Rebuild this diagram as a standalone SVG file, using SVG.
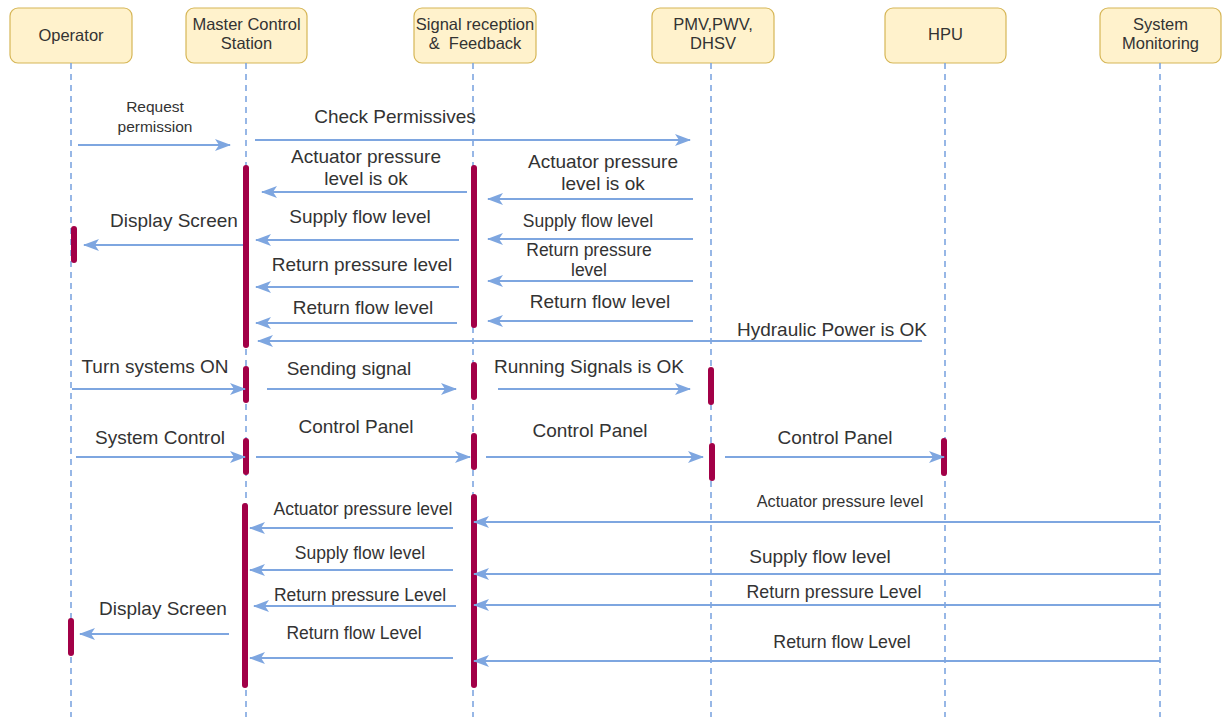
<svg xmlns="http://www.w3.org/2000/svg" width="1228" height="717" viewBox="0 0 1228 717">
  <style>
    .box { fill: #fff2cc; stroke: #d6b656; stroke-width: 1.2; }
    .life { stroke: #7ea6e0; stroke-width: 1.6; stroke-dasharray: 6 5; fill: none; }
    .act { stroke: #a20047; stroke-width: 6; stroke-linecap: round; fill: none; }
    .msg { stroke: #7ea6e0; stroke-width: 2; fill: none; marker-end: url(#head); }
    text { font-family: "Liberation Sans", Arial, sans-serif; fill: #333333; text-anchor: middle; }
    .hd { font-size: 16.5px; }
    .lb { font-size: 19px; }
    .md { font-size: 17.8px; }
    .sm { font-size: 17.5px; }
    .xs { font-size: 16.3px; }
    .rq { font-size: 15.5px; }
  </style>
  <defs>
    <marker id="head" viewBox="0 0 16 12" refX="15" refY="6" markerWidth="16" markerHeight="12" markerUnits="userSpaceOnUse" orient="auto">
      <path d="M0,0 L16,6 L0,12 L4,6 Z" fill="#7ea6e0"/>
    </marker>
  </defs>
  <rect width="1228" height="717" fill="#ffffff"/>

  <!-- participants -->
  <g id="operator">
    <rect class="box" x="10" y="8" width="122" height="55" rx="8"/>
    <text class="hd" x="71" y="41">Operator</text>
  </g>
  <g id="master-control-station">
    <rect class="box" x="186" y="8" width="121" height="55" rx="8"/>
    <text class="hd" x="246.5" y="30">Master Control</text>
    <text class="hd" x="246.5" y="49">Station</text>
  </g>
  <g id="signal-reception">
    <rect class="box" x="414" y="8" width="122" height="55" rx="8"/>
    <text class="hd" x="475" y="30">Signal reception</text>
    <text class="hd" x="475" y="49">&amp;&#160; Feedback</text>
  </g>
  <g id="valves">
    <rect class="box" x="652" y="8" width="122" height="55" rx="8"/>
    <text class="hd" x="713" y="30">PMV,PWV,</text>
    <text class="hd" x="713" y="49">DHSV</text>
  </g>
  <g id="hpu">
    <rect class="box" x="885" y="8" width="121" height="55" rx="8"/>
    <text class="hd" x="945.5" y="40">HPU</text>
  </g>
  <g id="system-monitoring">
    <rect class="box" x="1100" y="8" width="121" height="55" rx="8"/>
    <text class="hd" x="1160.5" y="30">System</text>
    <text class="hd" x="1160.5" y="49">Monitoring</text>
  </g>

  <!-- lifelines -->
  <g id="lifelines">
    <line class="life" x1="71" y1="63" x2="71" y2="717"/>
    <line class="life" x1="246" y1="63" x2="246" y2="717"/>
    <line class="life" x1="473" y1="63" x2="473" y2="717"/>
    <line class="life" x1="711" y1="63" x2="711" y2="717"/>
    <line class="life" x1="945" y1="63" x2="945" y2="717"/>
    <line class="life" x1="1160" y1="63" x2="1160" y2="717"/>
  </g>

  <!-- activation bars -->
  <g id="activations">
    <line class="act" x1="246" y1="168" x2="246" y2="345"/>
    <line class="act" x1="474" y1="168" x2="474" y2="325"/>
    <line class="act" x1="74" y1="229" x2="74" y2="260"/>
    <line class="act" x1="246" y1="369" x2="246" y2="400"/>
    <line class="act" x1="474" y1="365" x2="474" y2="397"/>
    <line class="act" x1="711" y1="370" x2="711" y2="402"/>
    <line class="act" x1="246" y1="441" x2="246" y2="472"/>
    <line class="act" x1="474" y1="436" x2="474" y2="467"/>
    <line class="act" x1="712" y1="446" x2="712" y2="478"/>
    <line class="act" x1="944" y1="441" x2="944" y2="473"/>
    <line class="act" x1="245" y1="506" x2="245" y2="685"/>
    <line class="act" x1="474" y1="497" x2="474" y2="685"/>
    <line class="act" x1="71" y1="621" x2="71" y2="653"/>
  </g>

  <!-- messages -->
  <g id="connectors">
    <line class="msg" x1="78" y1="145" x2="230" y2="145"/>
    <line class="msg" x1="255" y1="140" x2="690" y2="140"/>
    <line class="msg" x1="467" y1="192" x2="262" y2="192"/>
    <line class="msg" x1="693" y1="199" x2="488" y2="199"/>
    <line class="msg" x1="243" y1="245" x2="84" y2="245"/>
    <line class="msg" x1="459" y1="240" x2="256" y2="240"/>
    <line class="msg" x1="693" y1="239" x2="488" y2="239"/>
    <line class="msg" x1="459" y1="287" x2="256" y2="287"/>
    <line class="msg" x1="693" y1="281" x2="488" y2="281"/>
    <line class="msg" x1="457" y1="323" x2="256" y2="323"/>
    <line class="msg" x1="693" y1="321" x2="488" y2="321"/>
    <line class="msg" x1="922" y1="341" x2="258" y2="341"/>
    <line class="msg" x1="72" y1="389" x2="245" y2="389"/>
    <line class="msg" x1="267" y1="389" x2="456" y2="389"/>
    <line class="msg" x1="498" y1="389" x2="690" y2="389"/>
    <line class="msg" x1="76" y1="457" x2="245" y2="457"/>
    <line class="msg" x1="256" y1="457" x2="470" y2="457"/>
    <line class="msg" x1="486" y1="457" x2="703" y2="457"/>
    <line class="msg" x1="725" y1="457" x2="944" y2="457"/>
    <line class="msg" x1="453" y1="528" x2="250" y2="528"/>
    <line class="msg" x1="1160" y1="522" x2="474" y2="522"/>
    <line class="msg" x1="453" y1="570" x2="250" y2="570"/>
    <line class="msg" x1="1160" y1="574" x2="474" y2="574"/>
    <line class="msg" x1="456" y1="606" x2="254" y2="606"/>
    <line class="msg" x1="1160" y1="605" x2="474" y2="605"/>
    <line class="msg" x1="229" y1="634" x2="80" y2="634"/>
    <line class="msg" x1="453" y1="658" x2="250" y2="658"/>
    <line class="msg" x1="1160" y1="661" x2="474" y2="661"/>
  </g>

  <!-- message labels -->
  <g id="labels">
    <text class="rq" x="155" y="112">Request</text>
    <text class="rq" x="155" y="132">permission</text>
    <text class="lb" x="395" y="123">Check Permissives</text>
    <text class="lb" x="366" y="163">Actuator pressure</text>
    <text class="lb" x="366" y="185">level is ok</text>
    <text class="lb" x="603" y="168">Actuator pressure</text>
    <text class="lb" x="603" y="190">level is ok</text>
    <text class="lb" x="174" y="227">Display Screen</text>
    <text class="lb" x="360" y="223">Supply flow level</text>
    <text class="sm" x="588" y="227">Supply flow level</text>
    <text class="sm" x="589" y="256">Return pressure</text>
    <text class="sm" x="589" y="276">level</text>
    <text class="lb" x="362" y="271">Return pressure level</text>
    <text class="lb" x="363" y="314">Return flow level</text>
    <text class="lb" x="600" y="308">Return flow level</text>
    <text class="lb" x="832" y="336">Hydraulic Power is OK</text>
    <text class="lb" x="155" y="373">Turn systems ON</text>
    <text class="lb" x="349" y="375">Sending signal</text>
    <text class="lb" x="589" y="373">Running Signals is OK</text>
    <text class="lb" x="160" y="444">System Control</text>
    <text class="lb" x="356" y="433">Control Panel</text>
    <text class="lb" x="590" y="437">Control Panel</text>
    <text class="lb" x="835" y="444">Control Panel</text>
    <text class="sm" x="363" y="515">Actuator pressure level</text>
    <text class="xs" x="840" y="507">Actuator pressure level</text>
    <text class="sm" x="360" y="559">Supply flow level</text>
    <text class="lb" x="820" y="563">Supply flow level</text>
    <text class="sm" x="360" y="601">Return pressure Level</text>
    <text class="md" x="834" y="598">Return pressure Level</text>
    <text class="lb" x="163" y="615">Display Screen</text>
    <text class="sm" x="354" y="639">Return flow Level</text>
    <text class="md" x="842" y="648">Return flow Level</text>
  </g>
</svg>
